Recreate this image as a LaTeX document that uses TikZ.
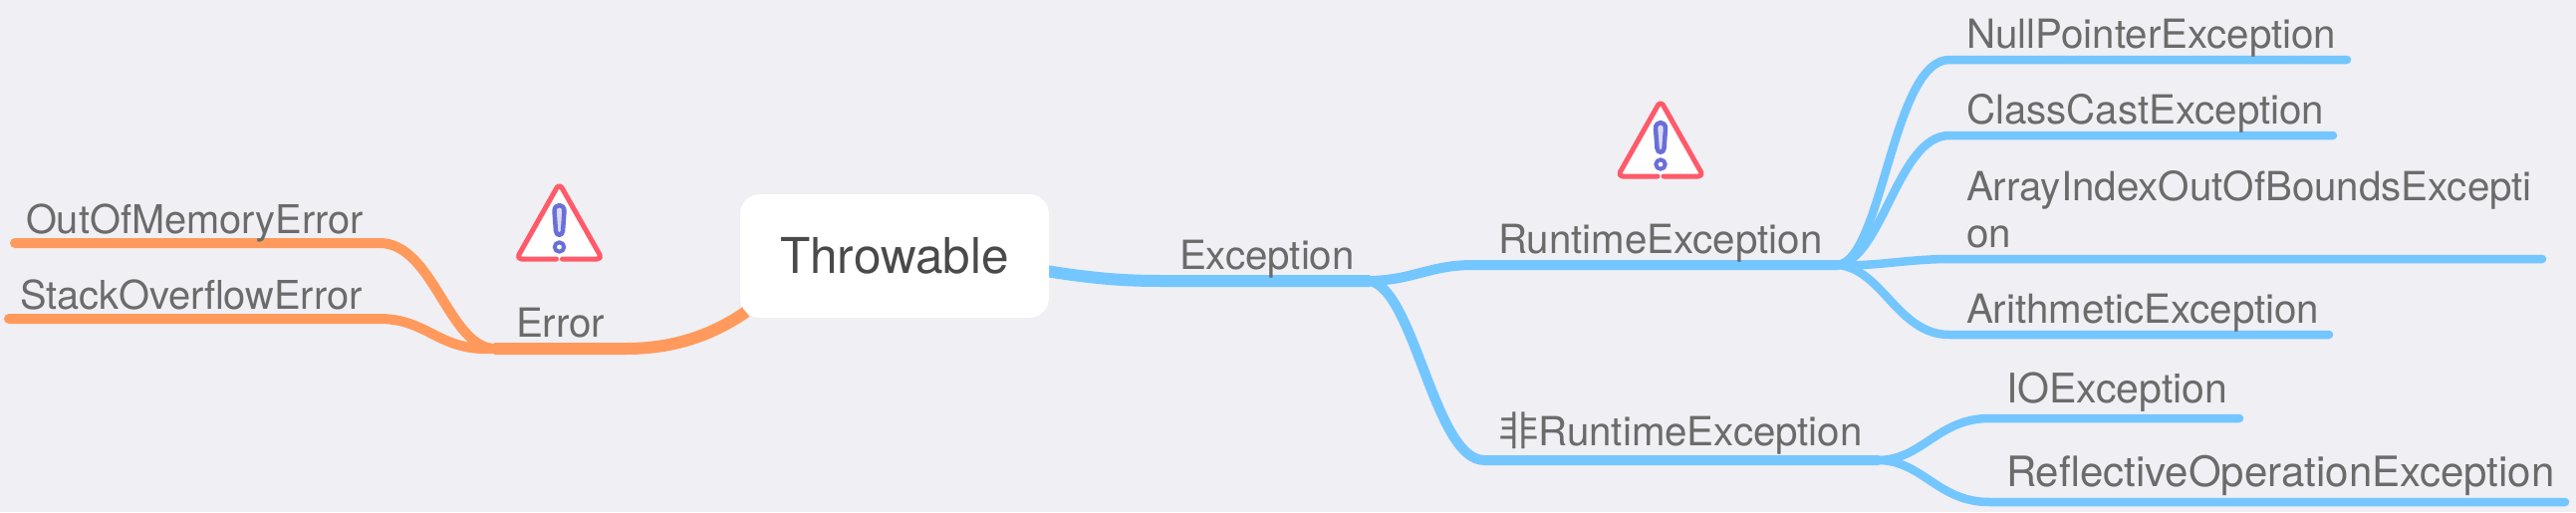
\documentclass[tikz,border=0pt]{standalone}
\usepackage{fontspec}
\setmainfont{TeX Gyre Heros}
\newfontfamily\cjkfont{Noto Sans CJK SC}
\usetikzlibrary{backgrounds}
\usetikzlibrary{positioning}
\definecolor{paper}{HTML}{EFEFF4}
\definecolor{orangeline}{HTML}{FF9A5C}
\definecolor{blueline}{HTML}{74C6FF}
\definecolor{labelgrey}{HTML}{6B6B6B}
\definecolor{rootgrey}{HTML}{4A4A4A}
\definecolor{warnred}{HTML}{FF5A6A}
\definecolor{warnblue}{HTML}{6A6FD8}
\tikzset{
  topic/.style={anchor=base west,inner sep=0pt,outer sep=0pt,text=labelgrey,font=\fontsize{40.3}{48}\selectfont},
  slimtopic/.style={topic,font=\fontsize{39.8}{48}\selectfont},
  widetopic/.style={topic,font=\fontsize{42}{50}\selectfont},
  rootbox/.style={fill=white,rounded corners=20pt,minimum width=310pt,minimum height=124pt,inner sep=0pt,text=rootgrey,font=\fontsize{49.5}{58}\selectfont},
  trunk/.style={line width=12pt,line cap=round},
  limb/.style={line width=10pt,line cap=round},
  twig/.style={line width=8.5pt,line cap=round}
}
\newcommand*\mydrawwarning[2]{%
% #1=x of the apex;#2=y of the apex
    \begin{scope}[shift={(#1,#2)},line cap=round,line join=round]
    \fill[white,rounded corners=4pt] (-42,77) -- (0,2) -- (42,77) -- cycle;
    \draw[warnred,line width=5pt,rounded corners=5pt] (-3,77) -- (-43,77) -- (0,1) -- (43,77) -- (3,77);
    \draw[warnblue,fill=warnblue!25,line width=4.5pt] (-5,29) .. controls (-5,21) and (5,21) .. (5,29) -- (3.5,49) .. controls (3,54) and (-3,54) .. (-3.5,49) -- cycle;
    \draw[warnblue,line width=4pt] (0,65) circle (4.7);
    \end{scope}
}

\begin{document}
\begin{tikzpicture}[x=1pt,y=-1pt]
\useasboundingbox (0,0) rectangle (2586,514);

\node[rootbox] (throwable) at (898,257) {Throwable};

% junctions of the branches
\coordinate (rootL) at (749,313);
\coordinate (rootR) at (1050,272);
\coordinate (errL) at (628,350);
\coordinate (errJ) at (496,350);
\coordinate (excL) at (1166,282);
\coordinate (excJ) at (1375,282);
\coordinate (runL) at (1479,266);
\coordinate (runJ) at (1845,266);
\coordinate (nonL) at (1490,462);
\coordinate (nonJ) at (1885,462);

% labels
\node[slimtopic] (oom) at (26,234) {OutOfMemoryError};
\node[slimtopic] (soe) at (20,310) {StackOverflowError};
\node[topic] (err) at (518,338) {Error};
\node[topic] (exc) at (1184,270) {Exception};
\node[topic] (run) at (1504,254) {RuntimeException};
\node[topic] (non) at (1504,447) {{\cjkfont 非}RuntimeException};
\node[topic] (npe) at (1974,48) {NullPointerException};
\node[topic] (cce) at (1974,124) {ClassCastException};
\node[topic] (aie) at (1974,201) {ArrayIndexOutOfBoundsExcepti};
\node[topic] (aie2) at (1974,248) {on};
\node[topic] (are) at (1974,324) {ArithmeticException};
\node[topic,font=\fontsize{41}{50}\selectfont] (ioe) at (2014,404) {IOException};
\node[widetopic] (roe) at (2014,488) {ReflectiveOperationException};

% line ends
\coordinate (oomA) at (381,244);
\coordinate (oomB) at (15,244);
\coordinate (soeA) at (381,320);
\coordinate (soeB) at (9,320);
\coordinate (npeA) at (1957,60);
\coordinate (npeB) at (2356,60);
\coordinate (cceA) at (1957,136);
\coordinate (cceB) at (2342,136);
\coordinate (aieA) at (1957,260);
\coordinate (aieB) at (2552,260);
\coordinate (areA) at (1957,336);
\coordinate (areB) at (2338,336);
\coordinate (ioeA) at (1997,420);
\coordinate (ioeB) at (2248,420);
\coordinate (roeA) at (1997,504);
\coordinate (roeB) at (2575,504);

\begin{scope}[on background layer]
\fill[paper] (0,0) rectangle (2586,514);
\draw[orangeline,trunk,line cap=butt] (rootL) .. controls (710,340) and (670,350) .. (errL) -- (errJ);
\draw[orangeline,limb] (errJ) .. controls (450,348) and (435,244) .. (oomA) -- (oomB);
\draw[orangeline,limb] (errJ) .. controls (440,353) and (430,320) .. (soeA) -- (soeB);

\draw[blueline,trunk,line cap=butt] (rootR) .. controls (1100,280) and (1130,282) .. (excL) -- (excJ);
\draw[blueline,limb] (excJ) .. controls (1420,281) and (1435,266) .. (runL) -- (runJ);
\draw[blueline,limb] (excJ) .. controls (1420,290) and (1440,462) .. (nonL) -- (nonJ);

\draw[blueline,twig] (runJ) .. controls (1890,260) and (1900,60) .. (npeA) -- (npeB);
\draw[blueline,twig] (runJ) .. controls (1890,260) and (1905,136) .. (cceA) -- (cceB);
\draw[blueline,twig] (runJ) .. controls (1880,268) and (1915,260) .. (aieA) -- (aieB);
\draw[blueline,twig] (runJ) .. controls (1890,270) and (1905,336) .. (areA) -- (areB);
\draw[blueline,twig] (nonJ) .. controls (1930,462) and (1945,420) .. (ioeA) -- (ioeB);
\draw[blueline,twig] (nonJ) .. controls (1930,462) and (1945,504) .. (roeA) -- (roeB);
\end{scope}

\mydrawwarning{561.5}{183}
\mydrawwarning{1667}{100}
\end{tikzpicture}
\end{document}
